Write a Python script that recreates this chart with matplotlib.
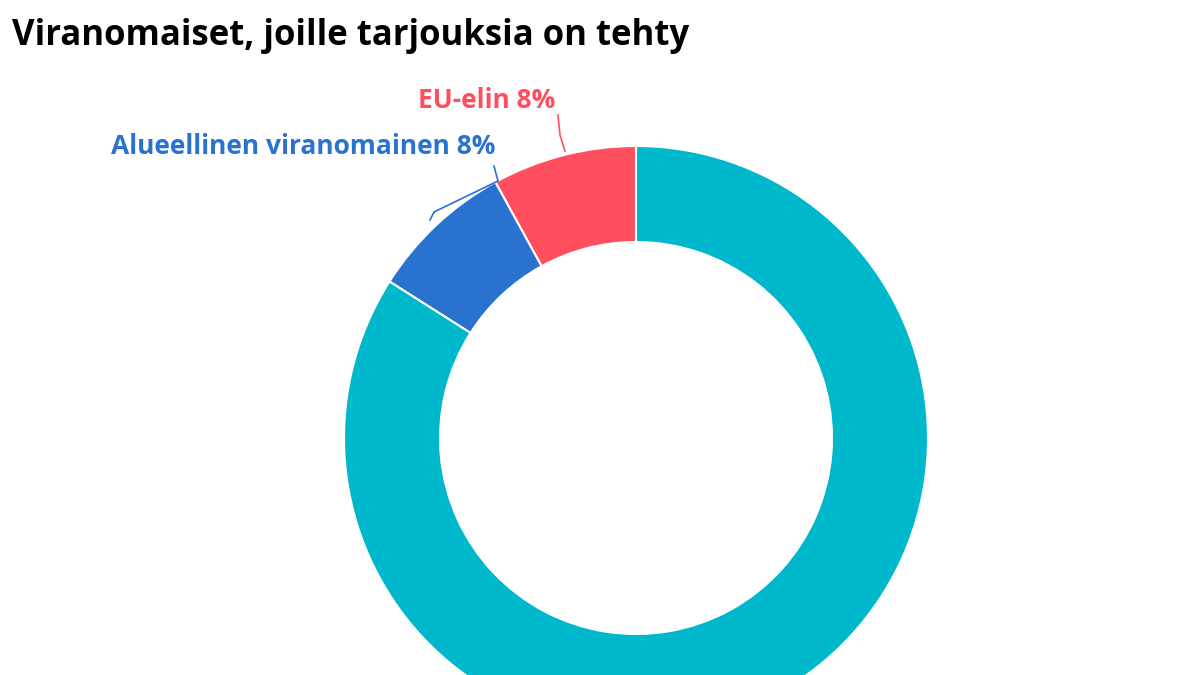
import matplotlib
matplotlib.use("Agg")
import matplotlib.pyplot as plt

labels = ["EU-elin", "Alueellinen viranomainen", "Muu"]
values = [8, 8, 84]
colors = ["#ff4f5e", "#2a72d0", "#00b8cc"]

plt.rcParams['font.family'] = ['Open Sans', 'DejaVu Sans']
fig = plt.figure(figsize=(12, 6.75), dpi=100)
ax = fig.add_axes([0, 0, 1, 1])
ax.set_xlim(0, 1200); ax.set_ylim(0, 675); ax.set_aspect('equal'); ax.axis('off')

cx, cy, r = 636, 675 - 438, 292
ax.pie(values, colors=colors, startangle=90, counterclock=True, center=(cx, cy), radius=r,
       wedgeprops=dict(width=96, edgecolor='white', linewidth=1.5), frame=True)
ax.set_xlim(0, 1200); ax.set_ylim(0, 675); ax.axis('off')

fig.text(12/1200, 1 - 36/675, "Viranomaiset, joille tarjouksia on tehty", fontsize=25,
         fontweight='bold', va='center', ha='left', color='black')
ax.text(555, 675 - 101, f"{labels[0]} {values[0]}%", color=colors[0], fontsize=19,
        fontweight='bold', ha='right', va='center')
ax.text(495, 675 - 146, f"{labels[1]} {values[1]}%", color=colors[1], fontsize=19,
        fontweight='bold', ha='right', va='center')
ax.plot([558, 560, 565], [675 - 115, 675 - 135, 675 - 151], color=colors[0], lw=1.2)
ax.plot([494, 498, 434, 430], [675 - 166, 675 - 181, 675 - 212, 675 - 220], color=colors[1], lw=1.2)
fig.savefig("out.png", dpi=100)
